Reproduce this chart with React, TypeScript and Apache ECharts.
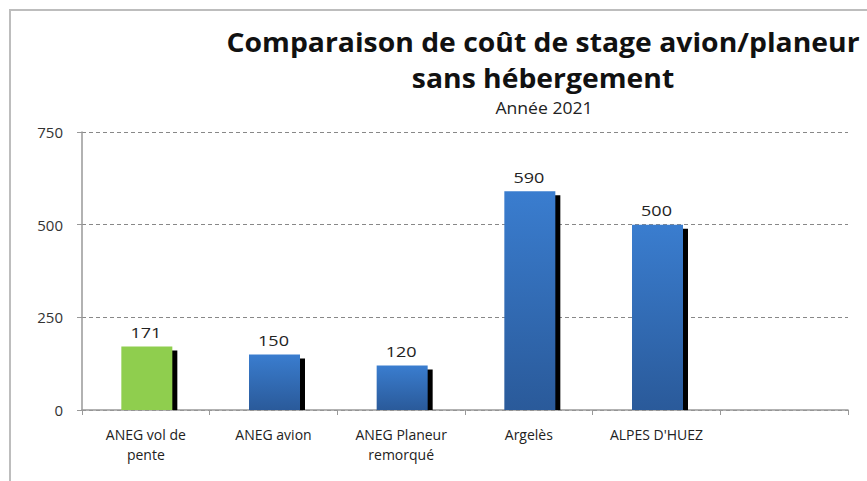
import React, { useEffect, useRef } from "react";
import * as echarts from "echarts";

const categories = [
  "ANEG vol de\npente",
  "ANEG avion",
  "ANEG Planeur\nremorqué",
  "Argelès",
  "ALPES D'HUEZ",
  "",
];
const values = [171, 150, 120, 590, 500];
const barColors = ["green", "blue", "blue", "blue", "blue"];
const yTicks = { min: 0, max: 750, interval: 250 };
const titleLines = ["Comparaison de coût de stage avion/planeur", "sans hébergement"];
const subtitle = "Année 2021";

const FONT = "'Open Sans', 'Noto Sans', sans-serif";

export default function App() {
  const ref = useRef<HTMLDivElement>(null);
  useEffect(() => {
    if (!ref.current) return;
    const chart = echarts.init(ref.current, undefined, { renderer: "svg" });
    const greenFill = "#8fce4e";
    const blueFill = new echarts.graphic.LinearGradient(0, 0, 0, 1, [
      { offset: 0, color: "#3a7dcf" },
      { offset: 1, color: "#2a5a9a" },
    ]);
    chart.setOption({
      animation: false,
      backgroundColor: "#ffffff",
      graphic: [
        {
          type: "rect",
          shape: { x: 10, y: 10, width: 900, height: 520 },
          style: { fill: "none", stroke: "#bdbdbd", lineWidth: 2 },
          silent: true,
        },
        {
          type: "text",
          x: 543,
          y: 42,
          scaleX: 1.09,
          style: {
            text: titleLines[0],
            textAlign: "center",
            textVerticalAlign: "middle",
            font: `bold 26px ${FONT}`,
            fill: "#111",
          },
        },
        {
          type: "text",
          x: 543,
          y: 78,
          scaleX: 1.09,
          style: {
            text: titleLines[1],
            textAlign: "center",
            textVerticalAlign: "middle",
            font: `bold 26px ${FONT}`,
            fill: "#111",
          },
        },
        {
          type: "text",
          x: 544,
          y: 108,
          scaleX: 1.1,
          style: {
            text: subtitle,
            textAlign: "center",
            textVerticalAlign: "middle",
            font: `16px ${FONT}`,
            fill: "#222",
          },
        },
      ],
      grid: { left: 82, right: 19, top: 132, bottom: 71 },
      xAxis: {
        type: "category",
        data: categories,
        axisLine: { show: true, lineStyle: { color: "#999", width: 1.5 } },
        axisTick: { show: true, length: 5, alignWithLabel: false, lineStyle: { color: "#999" } },
        axisLabel: {
          interval: 0,
          fontFamily: FONT,
          fontSize: 14,
          color: "#222",
          lineHeight: 20,
          margin: 14,
        },
        splitLine: { show: false },
      },
      yAxis: {
        type: "value",
        min: yTicks.min,
        max: yTicks.max,
        interval: yTicks.interval,
        axisLine: { show: true, lineStyle: { color: "#999", width: 1.5 } },
        axisTick: { show: true, length: 5, lineStyle: { color: "#999" } },
        axisLabel: { fontFamily: FONT, fontSize: 15, color: "#333", margin: 19 },
        splitLine: { show: true, lineStyle: { color: "#888", type: [4, 3], width: 1 } },
      },
      series: [
        {
          type: "custom",
          data: values.map((v, i) => [i, v]),
          encode: { x: 0, y: 1 },
          renderItem: (params: any, api: any) => {
            const idx = api.value(0);
            const val = api.value(1);
            const top = api.coord([idx, val]);
            const base = api.coord([idx, 0]);
            const bw = 51;
            const x = top[0] - bw / 2 + 1;
            const h = base[1] - top[1];
            const fill = barColors[params.dataIndex] === "green" ? greenFill : blueFill;
            return {
              type: "group",
              children: [
                {
                  type: "rect",
                  shape: { x: x + 5, y: top[1] + 4, width: bw, height: Math.max(0, h - 4) },
                  style: { fill: "#000" },
                },
                {
                  type: "rect",
                  shape: { x, y: top[1], width: bw, height: h },
                  style: { fill },
                },
                {
                  type: "text",
                  x: top[0],
                  y: top[1] - 7,
                  scaleX: 1.2,
                  style: {
                    text: String(val),
                    textAlign: "center",
                    textVerticalAlign: "bottom",
                    font: `15px ${FONT}`,
                    fill: "#222",
                  },
                },
              ],
            };
          },
        },
      ],
    });
    return () => chart.dispose();
  }, []);
  return <div ref={ref} style={{ width: 867, height: 481, position: "absolute", left: 0, top: 0 }} />;
}
